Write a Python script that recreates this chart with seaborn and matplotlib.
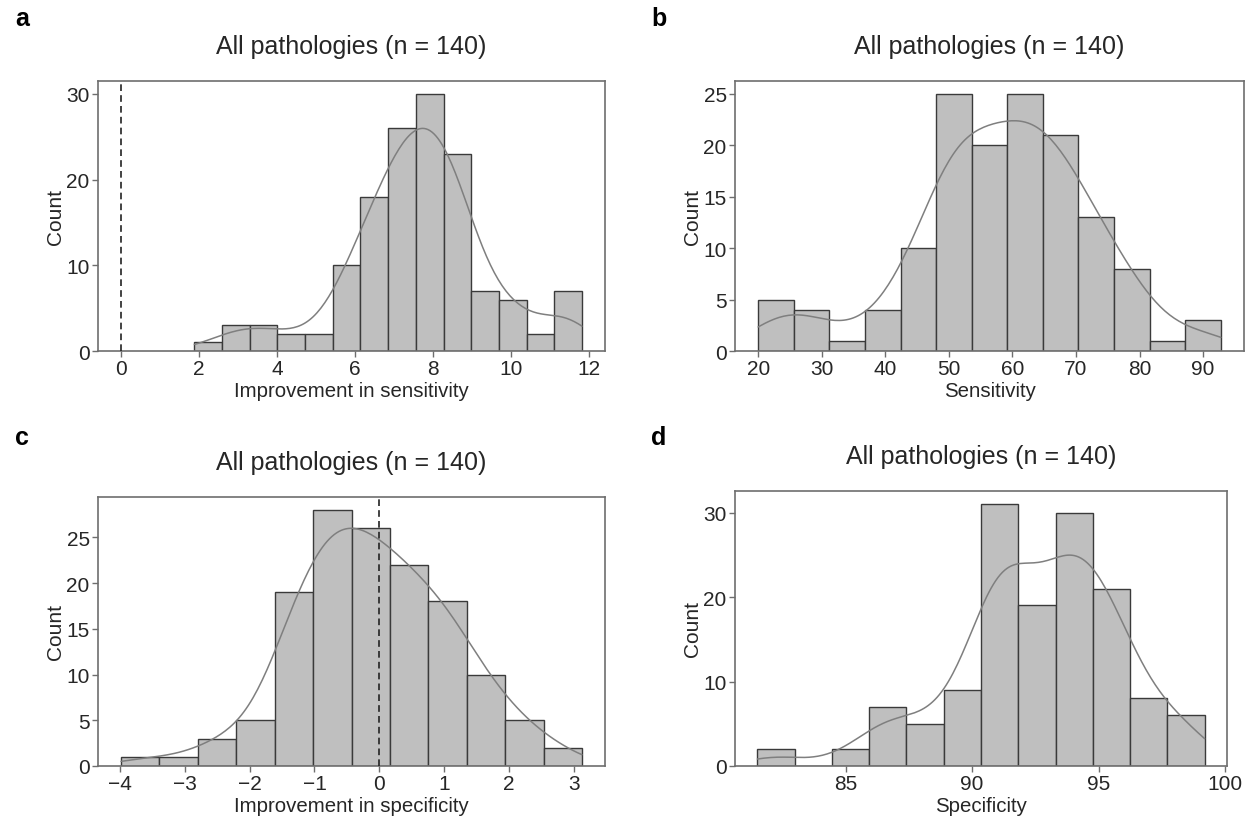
import numpy as np
import pandas as pd
import matplotlib
matplotlib.use("Agg")
import matplotlib.pyplot as plt
import seaborn as sns

# ---- data: histogram bin edges (first edge, bin width) and counts ----
a_first, a_width = 1.88, 0.71
a_counts = [1, 3, 3, 2, 2, 10, 18, 26, 30, 23, 7, 6, 2, 7]

b_first, b_width = 20.0, 5.6
b_counts = [5, 4, 1, 4, 10, 25, 20, 25, 21, 13, 8, 1, 3]

c_first, c_width = -3.98, 0.5917
c_counts = [1, 1, 3, 5, 19, 28, 26, 22, 18, 10, 5, 2]

d_first, d_width = 81.5, 1.475
d_counts = [2, 0, 2, 7, 5, 9, 31, 19, 30, 21, 8, 6]

titles = ["All pathologies (n = 140)"] * 4
xlabels = ["Improvement in sensitivity", "Sensitivity",
           "Improvement in specificity", "Specificity"]
letters = ["a", "b", "c", "d"]
a_xticks = [0, 2, 4, 6, 8, 10, 12]
b_xticks = [20, 30, 40, 50, 60, 70, 80, 90]
c_xticks = [-4, -3, -2, -1, 0, 1, 2, 3]
d_xticks = [85, 90, 95, 100]
a_yticks = [0, 10, 20, 30]
b_yticks = [0, 5, 10, 15, 20, 25]
c_yticks = [0, 5, 10, 15, 20, 25]
d_yticks = [0, 10, 20, 30]
ref_lines = [0, None, 0, None]

sns.set_theme(style="ticks")
plt.rcParams["font.family"] = ["Liberation Sans", "DejaVu Sans"]
plt.rcParams["axes.unicode_minus"] = True

W, H = 1254, 820
fig = plt.figure(figsize=(W / 100, H / 100), dpi=100)

# axes boxes in pixels: left, right, top, bottom
boxes = [(98, 605, 82, 352), (735, 1244, 82, 352),
         (98, 605, 498, 767), (735, 1227, 492, 767)]

panels = [(a_first, a_width, a_counts, a_xticks, a_yticks),
          (b_first, b_width, b_counts, b_xticks, b_yticks),
          (c_first, c_width, c_counts, c_xticks, c_yticks),
          (d_first, d_width, d_counts, d_xticks, d_yticks)]

spine_col = "#6e6e6e"
for i, ((first, width, counts, xt, yt), (l, r, t, b)) in enumerate(zip(panels, boxes)):
    ax = fig.add_axes([l / W, (H - b) / H, (r - l) / W, (b - t) / H])
    n = len(counts)
    edges = first + width * np.arange(n + 1)
    centers = edges[:-1] + width / 2
    values = np.repeat(centers, counts)
    df = pd.DataFrame({"value": values})
    if ref_lines[i] is not None:
        ax.axvline(ref_lines[i], color="#222222", linestyle=(0, (4, 2.5)),
                   linewidth=1.2, zorder=3)
    sns.histplot(data=df, x="value", bins=edges, kde=True, ax=ax,
                 color="#7f7f7f", facecolor="#bfbfbf", edgecolor="#3a3a3a",
                 linewidth=1.0,
                 kde_kws={"cut": 3, "clip": (edges[0], edges[-1])},
                 line_kws={"linewidth": 1.1})
    ax.set_xticks(xt)
    ax.set_yticks(yt)
    ax.set_title(titles[i], fontsize=18, pad=20, color="#262626")
    ax.set_xlabel(xlabels[i], fontsize=14.7, labelpad=2, color="#262626")
    ax.set_ylabel("Count", fontsize=15, labelpad=1, color="#262626")
    ax.tick_params(axis="both", labelsize=15, length=4, width=1,
                   color=spine_col, labelcolor="#262626", pad=2)
    for sp in ax.spines.values():
        sp.set_visible(True)
        sp.set_color(spine_col)
        sp.set_linewidth(1.2)
    ax.set_ylim(bottom=0)
    lx = 15 if i % 2 == 0 else 651
    ly = 19 if i < 2 else 438
    fig.text(lx / W, 1 - ly / H, letters[i], fontsize=18, fontweight="bold",
             ha="left", va="center", color="black")

fig.savefig("out.png", dpi=100)
